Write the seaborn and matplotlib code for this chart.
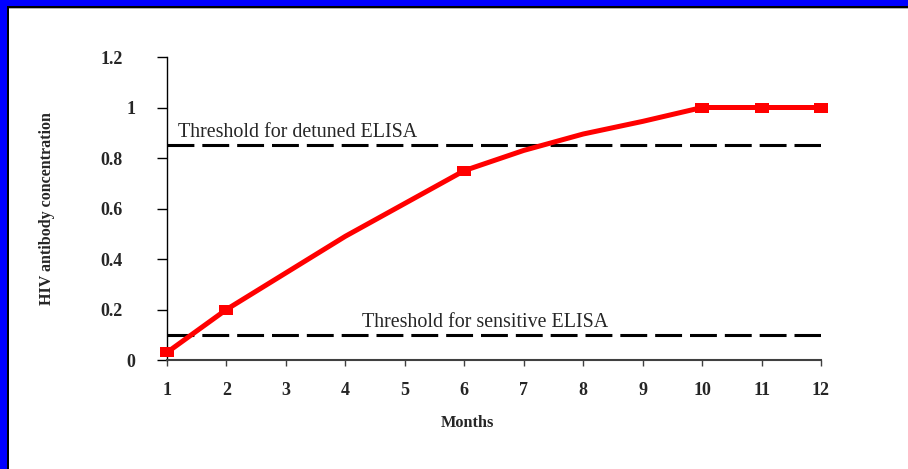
import matplotlib
matplotlib.use("Agg")
import matplotlib.pyplot as plt
import matplotlib.transforms as mtransforms
from matplotlib.patches import Rectangle
import seaborn as sns
import pandas as pd

# 값은 그림에서 읽어온 것
months = [1, 2, 3, 4, 5, 6, 7, 8, 9, 10, 11, 12]
antibody = [0.03, 0.2, 0.345, 0.49, 0.62, 0.75, 0.83, 0.895, 0.945, 1.0, 1.0, 1.0]
marked = [0, 1, 5, 9, 10, 11]          # 네모 마커가 찍힌 달(인덱스)
detuned_level = 0.85
sensitive_level = 0.1
y_ticks = [0, 0.2, 0.4, 0.6, 0.8, 1, 1.2]
y_labels = ['0', '0.2', '0.4', '0.6', '0.8', '1', '1.2']

df = pd.DataFrame({'Months': months, 'conc': antibody})

sns.set_style('white')
plt.rcParams['font.family'] = ['Liberation Serif', 'DejaVu Serif']

fig = plt.figure(figsize=(9.08, 4.69), dpi=100)
fig.patch.set_facecolor('white')
ax = fig.add_axes([167 / 908, 1 - 360 / 469, 654 / 908, 303 / 469])

# 파란 테두리 (왼쪽, 위)
fig.add_artist(Rectangle((0, 0), 7 / 908, 1, transform=fig.transFigure, color='#0000ff', lw=0))
fig.add_artist(Rectangle((7 / 908, 0), 2 / 908, 1 - 6 / 469, transform=fig.transFigure, color='black', lw=0))
fig.add_artist(Rectangle((0, 1 - 6 / 469), 1, 6 / 469, transform=fig.transFigure, color='#0000ff', lw=0))
fig.add_artist(Rectangle((7 / 908, 1 - 8 / 469), 1, 2 / 469, transform=fig.transFigure, color='black', lw=0))
fig.add_artist(Rectangle((9 / 908, 1 - 9 / 469), 1, 1 / 469, transform=fig.transFigure, color='#b0b0b0', lw=0))

# 기준선
ax.axhline(detuned_level, color='black', lw=2.2, dashes=(8.8, 2.6))
ax.axhline(sensitive_level, color='black', lw=2.2, dashes=(8.8, 2.6))
ax.text(1.185, detuned_level + 0.035, 'Threshold for detuned ELISA', fontsize=14.4, va='baseline')
ax.text(4.28, sensitive_level + 0.03, 'Threshold for sensitive ELISA', fontsize=14.4, va='baseline')

rect = [(-1.5, -1), (1.5, -1), (1.5, 1), (-1.5, 1), (-1.5, -1)]
sns.lineplot(data=df, x='Months', y='conc', ax=ax, color='#ff0000', lw=3.6,
             marker=rect, markersize=10, markevery=marked, markeredgewidth=0,
             clip_on=False, zorder=5)

ax.set_xlim(1, 12)
ax.set_ylim(0, 1.2)
ax.set_xticks(months)
ax.set_xticklabels([str(m) for m in months], fontweight='bold', fontsize=13)
ax.set_yticks(y_ticks)
ax.set_yticklabels(y_labels, fontweight='bold', fontsize=13)
ax.tick_params(axis='y', direction='out', length=7, width=1, pad=25, left=True, color='black')
ax.tick_params(axis='x', direction='out', length=4.5, width=1, pad=11.5, bottom=True, color='#404040')

# 정수 라벨은 조금 오른쪽으로
for lab in ax.get_yticklabels():
    if '.' not in lab.get_text():
        lab.set_transform(lab.get_transform() + mtransforms.ScaledTranslation(13 / 100, 0, fig.dpi_scale_trans))

for s in ['top', 'right']:
    ax.spines[s].set_visible(False)
ax.spines['left'].set_color('black')
ax.spines['left'].set_linewidth(1)
ax.spines['bottom'].set_color('#404040')
ax.spines['bottom'].set_linewidth(1.5)

ax.set_xlabel('')
ax.set_ylabel('HIV antibody concentration', fontweight='bold', fontsize=11.5)
ax.yaxis.set_label_coords((55 - 167) / 654, 0.5)
fig.text(467 / 908, 1 - 423 / 469, 'Months', fontweight='bold', fontsize=11.7, ha='center', va='center')

fig.savefig('out.png', dpi=100, facecolor='white')
